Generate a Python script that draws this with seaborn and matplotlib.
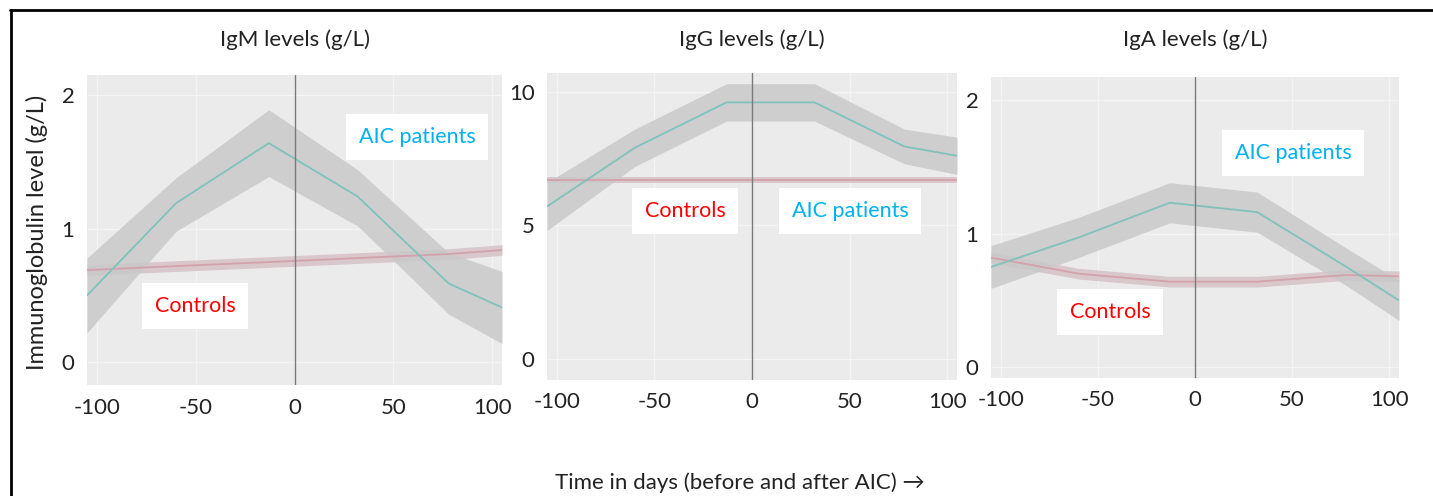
import numpy as np
import pandas as pd
import seaborn as sns
import matplotlib.pyplot as plt
from matplotlib.lines import Line2D

# dane
days = [-105, -60, -13, 32, 78, 105]

igm_aic = [0.50, 1.19, 1.64, 1.24, 0.59, 0.41]
igm_aic_lo = [0.22, 0.98, 1.39, 1.02, 0.36, 0.14]
igm_aic_hi = [0.78, 1.38, 1.89, 1.44, 0.82, 0.68]
igm_ctrl = [0.69, 0.72, 0.75, 0.78, 0.81, 0.84]

igg_aic = [5.7, 7.9, 9.6, 9.6, 7.95, 7.6]
igg_aic_lo = [4.8, 7.2, 8.9, 8.9, 7.3, 6.9]
igg_aic_hi = [6.6, 8.6, 10.3, 10.3, 8.6, 8.3]
igg_ctrl = [6.7, 6.7, 6.7, 6.7, 6.7, 6.7]

iga_aic = [0.75, 0.97, 1.23, 1.16, 0.75, 0.50]
iga_aic_lo = [0.59, 0.82, 1.08, 1.01, 0.61, 0.35]
iga_aic_hi = [0.91, 1.12, 1.38, 1.31, 0.89, 0.65]
iga_ctrl = [0.82, 0.70, 0.64, 0.64, 0.69, 0.68]

ctrl_ci = [0.04, 0.12, 0.04]

titles = ['IgM levels (g/L)', 'IgG levels (g/L)', 'IgA levels (g/L)']
yticks = [[0, 1, 2], [0, 5, 10], [0, 1, 2]]
ylims = [(-0.17, 2.15), (-0.8, 10.7), (-0.08, 2.17)]
xticks = [-100, -50, 0, 50, 100]

sns.set_theme(style="darkgrid")
plt.rcParams['font.family'] = ['Lato', 'DejaVu Sans']
plt.rcParams['axes.unicode_minus'] = False

fig = plt.figure(figsize=(14.33, 4.96), dpi=100)

W, H = 1433, 496
boxes = [(87, 75, 502, 385), (547, 73, 957, 380), (991, 77, 1399, 378)]
panele = [
    (igm_aic, igm_aic_lo, igm_aic_hi, igm_ctrl),
    (igg_aic, igg_aic_lo, igg_aic_hi, igg_ctrl),
    (iga_aic, iga_aic_lo, iga_aic_hi, iga_ctrl),
]
# pozycje etykiet (ułamki osi)
etykiety = [
    ((0.795, 0.80), (0.26, 0.255)),
    ((0.739, 0.55), (0.337, 0.55)),
    ((0.74, 0.747), (0.292, 0.219)),
]

for i, (x0, y0, x1, y1) in enumerate(boxes):
    ax = fig.add_axes([x0 / W, (H - y1) / H, (x1 - x0) / W, (y1 - y0) / H])
    ax.set_facecolor('#ebebeb')
    ax.grid(True, color='#f4f4f4', linewidth=1.0)
    aic, lo, hi, ctrl = panele[i]
    ctrl = np.array(ctrl)

    ax.fill_between(days, ctrl - ctrl_ci[i], ctrl + ctrl_ci[i],
                    color='#d8c8cc', linewidth=0, zorder=2)
    ax.fill_between(days, lo, hi, color='#c9c9c9', alpha=0.85, linewidth=0, zorder=3)

    df = pd.DataFrame({'Dni': days + days,
                       'Poziom': list(ctrl) + list(aic),
                       'Grupa': ['Controls'] * 6 + ['AIC patients'] * 6})
    sns.lineplot(data=df, x='Dni', y='Poziom', hue='Grupa',
                 palette={'Controls': '#d4a1ab', 'AIC patients': '#80c2bb'},
                 linewidth=1.3, legend=False, ax=ax, zorder=4)

    ax.axvline(0, color='#7a7a7a', linewidth=1.0, zorder=5)
    ax.set_xlim(-105, 105)
    ax.set_ylim(*ylims[i])
    ax.set_xticks(xticks)
    ax.set_yticks(yticks[i])
    ax.tick_params(axis='both', length=0, labelsize=16, colors='#222222', pad=9)
    ax.set_xlabel('')
    ax.set_ylabel('')
    for s in ax.spines.values():
        s.set_visible(False)

    (ax_x, ax_y), (cx, cy) = etykiety[i]
    ax.text(ax_x, ax_y, 'AIC patients', transform=ax.transAxes, color='#00b0f0',
            fontsize=15.5, ha='center', va='center', zorder=6,
            bbox=dict(boxstyle='square,pad=0.6', fc='white', ec='none'))
    ax.text(cx, cy, 'Controls', transform=ax.transAxes, color='#ff0000',
            fontsize=15.5, ha='center', va='center', zorder=6,
            bbox=dict(boxstyle='square,pad=0.6', fc='white', ec='none'))

    fig.text((x0 + x1) / 2 / W, 1 - 40 / H, titles[i], ha='center', va='center',
             fontsize=16, color='#222222')

fig.text(37 / W, 1 - 232 / H, 'Immunoglobulin level (g/L)', rotation=90,
         ha='center', va='center', fontsize=17, color='#222222')
fig.text(740 / W, 1 - 483 / H, 'Time in days (before and after AIC) \u2192',
         ha='center', va='center', fontsize=16, color='#222222')

# ramka (góra i lewa krawędź)
fig.add_artist(Line2D([10 / W, 1], [1 - 10 / H, 1 - 10 / H], color='black', linewidth=2,
                      transform=fig.transFigure))
fig.add_artist(Line2D([11 / W, 11 / W], [0, 1 - 10 / H], color='black', linewidth=2,
                      transform=fig.transFigure))

fig.savefig('out.png', dpi=100)
